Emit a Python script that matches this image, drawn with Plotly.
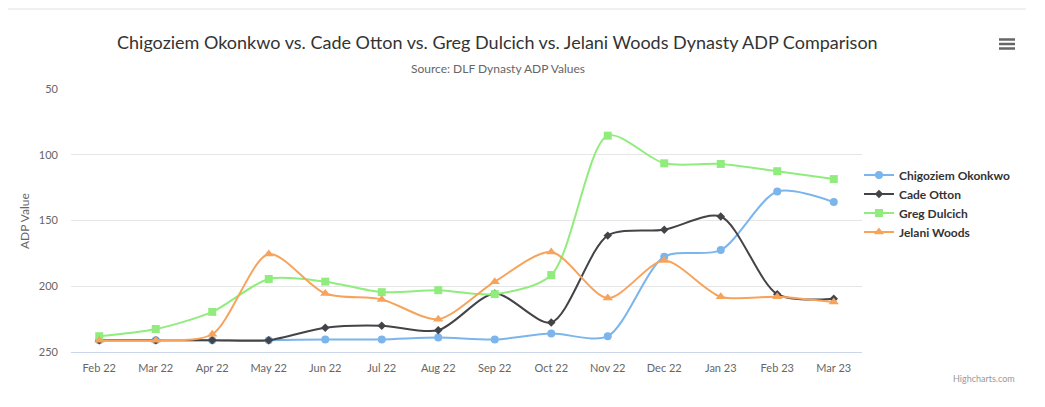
import plotly.graph_objects as go

months = ["Feb 22", "Mar 22", "Apr 22", "May 22", "Jun 22", "Jul 22", "Aug 22",
          "Sep 22", "Oct 22", "Nov 22", "Dec 22", "Jan 23", "Feb 23", "Mar 23"]

okonkwo = [241, 241, 241, 241, 240.5, 240.5, 239, 240.5, 236, 238, 177.5, 172.5, 128, 136]
otton = [241, 241, 241, 241, 231.5, 230, 233.5, 205.5, 227.5, 161.5, 157, 147, 206, 209.5]
dulcich = [238, 232.5, 219.5, 194.5, 196.5, 204.5, 203, 206, 191.5, 85.5, 106.5, 107, 112.5, 118.5]
woods = [241, 241, 236.5, 175.5, 205.5, 210, 225, 196.5, 174, 209, 180.5, 208, 208, 212]

series_names = ["Chigoziem Okonkwo", "Cade Otton", "Greg Dulcich", "Jelani Woods"]
series_values = [okonkwo, otton, dulcich, woods]
colors = ["#7cb5ec", "#434348", "#90ed7d", "#f7a35c"]
symbols = ["circle", "diamond", "square", "triangle-up"]
msizes = [8, 6.5, 8, 9]

y_ticks = [50, 100, 150, 200, 250]

title_text = "Chigoziem Okonkwo vs. Cade Otton vs. Greg Dulcich vs. Jelani Woods Dynasty ADP Comparison"
subtitle_text = "Source: DLF Dynasty ADP Values"

FONT = "Lato, Liberation Sans, Arial, sans-serif"

fig = go.Figure()
for name, vals, c, s, ms in zip(series_names, series_values, colors, symbols, msizes):
    fig.add_trace(go.Scatter(
        x=months, y=vals, name=name, mode="lines+markers",
        line=dict(color=c, width=2, shape="spline", smoothing=0.8),
        marker=dict(color=c, symbol=s, size=ms, line=dict(width=0)),
    ))

# the page body has an 8px margin, so every target pixel is shifted by OFF
OFF = 8
W, H = 1045 - OFF, 407 - OFF
L, R, T, B = 71 - OFF, 862 - OFF, 89 - OFF, 352 - OFF
pw, ph = R - L, B - T

def px(x):
    return (x - OFF - L) / pw

def py(y):
    return (B - (y - OFF)) / ph

fig.update_layout(
    width=W, height=H,
    margin=dict(l=L, r=W - R, t=T, b=H - B, pad=0),
    paper_bgcolor="white", plot_bgcolor="white",
    font=dict(family=FONT, color="#666666", size=11),
    showlegend=True,
    legend=dict(
        x=px(859), y=py(203.5), xanchor="left", yanchor="middle",
        font=dict(family=FONT, size=12, color="#333333", weight="bold"),
        bgcolor="rgba(0,0,0,0)", borderwidth=0, tracegroupgap=0,
    ),
    xaxis=dict(
        type="category", range=[-0.5, len(months) - 0.5],
        showgrid=False, showline=True, linecolor="#ccd6eb", linewidth=1,
        ticks="", tickfont=dict(size=11, color="#666666"), ticklabelstandoff=6,
        zeroline=False, fixedrange=True,
    ),
    yaxis=dict(
        range=[250, 50], tickvals=y_ticks, showgrid=True, gridcolor="#e6e6e6",
        gridwidth=1, showline=False, zeroline=False, ticks="",
        tickfont=dict(size=11, color="#666666"), ticklabelstandoff=12,
        fixedrange=True,
    ),
    annotations=[
        dict(text=title_text, x=px(497), y=py(42), xref="paper", yref="paper",
             xanchor="center", yanchor="middle", showarrow=False,
             font=dict(family=FONT, size=18, color="#333333")),
        dict(text=subtitle_text, x=px(497.5), y=py(68), xref="paper", yref="paper",
             xanchor="center", yanchor="middle", showarrow=False,
             font=dict(family=FONT, size=12, color="#666666")),
        dict(text="ADP Value", x=px(24), y=py(221), xref="paper", yref="paper",
             xanchor="center", yanchor="middle", showarrow=False, textangle=-90,
             font=dict(family=FONT, size=12, color="#666666")),
        dict(text="Highcharts.com", x=px(1017), y=py(378), xref="paper", yref="paper",
             xanchor="right", yanchor="middle", showarrow=False,
             font=dict(family=FONT, size=9, color="#999999")),
    ],
    shapes=[
        dict(type="line", xref="paper", yref="paper", x0=px(8), x1=px(1026),
             y0=py(9), y1=py(9), line=dict(color="#e0e0e0", width=1)),
    ] + [
        dict(type="line", xref="paper", yref="paper", x0=px(999), x1=px(1015),
             y0=py(yy), y1=py(yy), line=dict(color="#666666", width=2.5))
        for yy in (39.5, 44, 48.5)
    ],
)

fig.write_html("out.html")
